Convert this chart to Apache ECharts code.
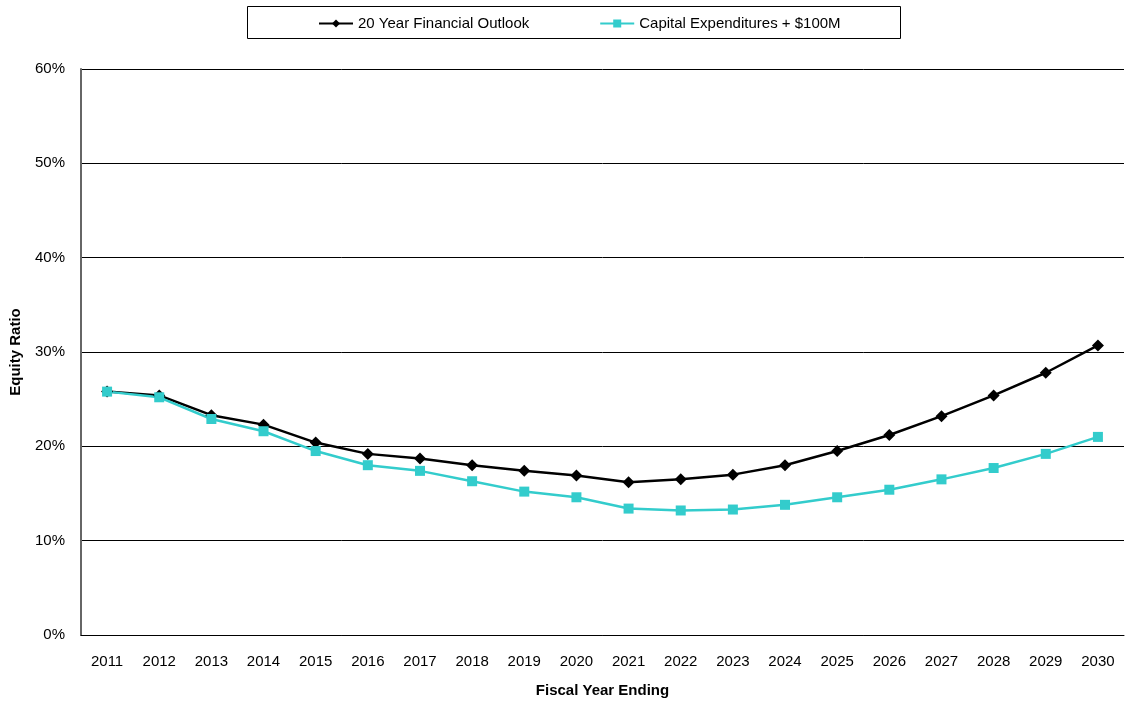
<!DOCTYPE html>
<html>
<head>
<meta charset="utf-8">
<script src="https://cdn.jsdelivr.net/npm/echarts@6/dist/echarts.min.js"></script>
<style>
  html, body { margin: 0; padding: 0; background: #fff; }
  #chart { width: 1127px; height: 703px; }
</style>
</head>
<body>
<div id="chart"></div>
<script>
const years = ['2011','2012','2013','2014','2015','2016','2017','2018','2019','2020',
               '2021','2022','2023','2024','2025','2026','2027','2028','2029','2030'];
// equity ratio, %
const outlook = [25.8, 25.4, 23.3, 22.3, 20.4, 19.2, 18.7, 18.0, 17.4, 16.9,
                 16.2, 16.5, 17.0, 18.0, 19.5, 21.2, 23.2, 25.4, 27.8, 30.7];
const capex100 = [25.8, 25.2, 22.9, 21.6, 19.5, 18.0, 17.4, 16.3, 15.2, 14.6,
                  13.4, 13.2, 13.3, 13.8, 14.6, 15.4, 16.5, 17.7, 19.2, 21.0];
const seriesNames = ['20 Year Financial Outlook', 'Capital Expenditures + $100M'];

const font = 'Liberation Sans, Arial, sans-serif';
const chart = echarts.init(document.getElementById('chart'));

chart.setOption({
  animation: false,
  textStyle: { fontFamily: font },
  graphic: [{
    type: 'rect',
    shape: { x: 247.5, y: 6.5, width: 653, height: 32 },
    style: { fill: 'none', stroke: '#000', lineWidth: 1 },
    z: 0
  }],
  legend: {
    left: 313, top: 11,
    itemWidth: 34, itemHeight: 10, itemGap: 70,
    textStyle: { fontSize: 15, color: '#000', fontFamily: font },
    data: seriesNames
  },
  grid: { left: 80, right: 3, top: 69, bottom: 62 },
  xAxis: {
    type: 'category',
    data: years,
    boundaryGap: true,
    name: 'Fiscal Year Ending',
    nameLocation: 'middle',
    nameGap: 48,
    nameTextStyle: { fontSize: 15, fontWeight: 'bold', color: '#000' },
    axisLine: { lineStyle: { color: '#000', width: 1 } },
    axisTick: { show: false },
    axisLabel: { fontSize: 15, color: '#000', margin: 19 }
  },
  yAxis: {
    type: 'value',
    min: 0, max: 60, interval: 10,
    name: 'Equity Ratio',
    nameLocation: 'middle',
    nameGap: 58,
    nameTextStyle: { fontSize: 15, fontWeight: 'bold', color: '#000' },
    axisLine: { show: true, lineStyle: { color: '#666', width: 2 } },
    axisTick: { show: false },
    axisLabel: { fontSize: 15, color: '#000', margin: 16, formatter: '{value}%' },
    splitLine: { lineStyle: { color: '#000', width: 1 } }
  },
  series: [
    {
      name: seriesNames[0],
      type: 'line',
      data: outlook,
      symbol: 'diamond',
      symbolSize: 12,
      itemStyle: { color: '#000' },
      lineStyle: { color: '#000', width: 2.5 }
    },
    {
      name: seriesNames[1],
      type: 'line',
      data: capex100,
      symbol: 'rect',
      symbolSize: 10,
      itemStyle: { color: '#33CCCC' },
      lineStyle: { color: '#33CCCC', width: 2.5 }
    }
  ]
});
</script>
</body>
</html>
